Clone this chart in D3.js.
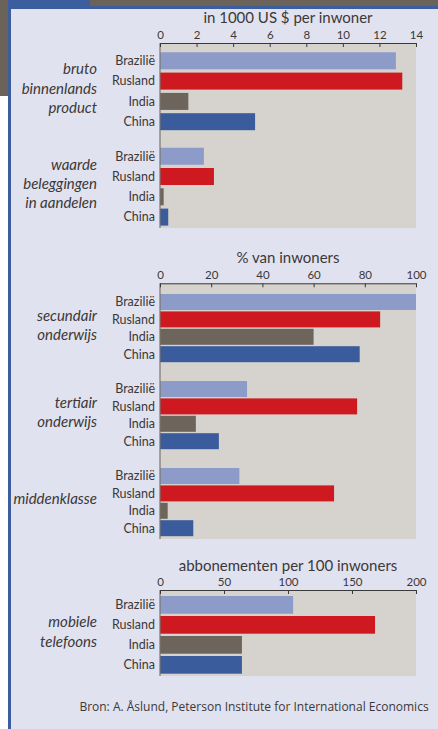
<!DOCTYPE html>
<html>
<head>
<meta charset="utf-8">
<script src="https://cdn.jsdelivr.net/npm/d3@7"></script>
<style>
  html, body { margin: 0; padding: 0; background: #fff; }
  svg { display: block; font-family: Lato, "Open Sans", sans-serif; }
</style>
</head>
<body>
<div id="chart"></div>
<script>
const width = 438,
  height = 729;

// data
const countries = ["Brazilië", "Rusland", "India", "China"];
const bbp = [12.9, 13.25, 1.55, 5.2];
const aandelen = [2.4, 2.95, 0.2, 0.45];
const secundair = [100, 86, 60, 78];
const tertiair = [34, 77, 14, 23];
const middenklasse = [31, 68, 3, 13];
const mobiel = [104, 168, 64, 64];

const ticks1 = [0, 2, 4, 6, 8, 10, 12, 14];
const ticks2 = [0, 20, 40, 60, 80, 100];
const ticks3 = [0, 50, 100, 150, 200];

const colors = ["#8c9bc7", "#cf1920", "#6d645b", "#3a5c9d"];

const panels = [
  {
    title: "in 1000 US $ per inwoner",
    ticks: ticks1,
    groups: [
      { label: ["bruto", "binnenlands", "product"], values: bbp },
      { label: ["waarde", "beleggingen", "in aandelen"], values: aandelen },
    ],
    // layout
    titleY: 18, axisY: 43, bottom: 228, first: 52.3, step: 20.3, barH: 17, groupSlots: 4.7,
  },
  {
    title: "% van inwoners",
    ticks: ticks2,
    groups: [
      { label: ["secundair", "onderwijs"], values: secundair },
      { label: ["tertiair", "onderwijs"], values: tertiair },
      { label: ["middenklasse"], values: middenklasse },
    ],
    titleY: 258, axisY: 283.3, bottom: 539, first: 294, step: 17.4, barH: 16, groupSlots: 5,
  },
  {
    title: "abbonementen per 100 inwoners",
    ticks: ticks3,
    groups: [{ label: ["mobiele", "telefoons"], values: mobiel }],
    titleY: 566, axisY: 590, bottom: 676, first: 596, step: 20, barH: 17.7, groupSlots: 5,
  },
];

const svg = d3
  .select("#chart")
  .append("svg")
  .attr("width", width)
  .attr("height", height);

// frame
svg.append("rect").attr("width", width).attr("height", height).attr("fill", "#ffffff");
svg.append("rect").attr("x", 0).attr("y", 0).attr("width", width).attr("height", 7).attr("fill", "#6b6259");
svg.append("rect").attr("x", 0).attr("y", 0).attr("width", 9).attr("height", 96).attr("fill", "#6b6259");
svg.append("rect").attr("x", 8).attr("y", 0).attr("width", 82).attr("height", 7).attr("fill", "#3d5e9e");
svg.append("rect").attr("x", 8).attr("y", 6).attr("width", width - 8).attr("height", height - 6).attr("fill", "#3d5e9e");
svg.append("rect").attr("x", 11).attr("y", 9).attr("width", width - 11).attr("height", height - 9).attr("fill", "#e1e2ef");

const textColor = "#3b3838";
const x0 = 160,
  x1 = 416;

panels.forEach((p) => {
  const x = d3
    .scaleLinear()
    .domain([p.ticks[0], p.ticks[p.ticks.length - 1]])
    .range([x0, x1]);

  // slot index -> top of bar
  const y = d3.scaleLinear().domain([0, 1]).range([p.first, p.first + p.step]);

  const g = svg.append("g");

  // plot background
  g.append("rect")
    .attr("x", x0)
    .attr("y", p.axisY)
    .attr("width", x1 - x0)
    .attr("height", p.bottom - p.axisY)
    .attr("fill", "#d6d3ce");

  // title
  g.append("text")
    .attr("x", (x0 + x1) / 2)
    .attr("y", p.titleY)
    .attr("dy", "0.35em")
    .attr("text-anchor", "middle")
    .attr("fill", textColor)
    .style("font-size", "15px")
    .text(p.title);

  const rows = [];
  p.groups.forEach((grp, gi) => {
    grp.values.forEach((v, i) => {
      rows.push({ country: countries[i], value: v, i: i, slot: gi * p.groupSlots + i });
    });
  });

  // bars
  g.selectAll("bars")
    .data(rows)
    .join("rect")
    .attr("x", x(0))
    .attr("y", (d) => y(d.slot))
    .attr("width", (d) => x(d.value) - x(0))
    .attr("height", p.barH)
    .attr("fill", (d) => colors[d.i]);

  // country labels
  g.selectAll("countryLabels")
    .data(rows)
    .join("text")
    .attr("x", x0 - 5)
    .attr("y", (d) => y(d.slot) + p.barH / 2)
    .attr("dy", "0.35em")
    .attr("text-anchor", "end")
    .attr("fill", textColor)
    .style("font-size", "12.5px")
    .text((d) => d.country);

  // group labels
  p.groups.forEach((grp, gi) => {
    const top = y(gi * p.groupSlots);
    const bot = y(gi * p.groupSlots + 3) + p.barH;
    const mid = (top + bot) / 2 - 3;
    const lh = 19.3;
    g.append("text")
      .attr("text-anchor", "end")
      .attr("fill", textColor)
      .style("font-size", "15px")
      .style("font-style", "italic")
      .selectAll("tspan")
      .data(grp.label)
      .join("tspan")
      .attr("x", 97)
      .attr("y", (d, k) => mid + (k - (grp.label.length - 1) / 2) * lh)
      .attr("dy", "0.35em")
      .text((d) => d);
  });

  // left axis line
  g.append("line")
    .attr("x1", x0)
    .attr("x2", x0)
    .attr("y1", p.axisY)
    .attr("y2", p.bottom)
    .attr("stroke", "#7a7470")
    .attr("stroke-width", 1.2);

  // top axis
  const axis = g
    .append("g")
    .attr("transform", `translate(0,${p.axisY})`)
    .call(
      d3.axisTop(x).tickValues(p.ticks).tickSizeInner(-4).tickSizeOuter(0).tickPadding(4)
    );
  axis.select(".domain").attr("stroke", "#3b3838");
  axis.selectAll(".tick line").attr("stroke", "#3b3838");
  axis
    .selectAll(".tick text")
    .attr("fill", textColor)
    .style("font-size", "11.5px")
    .style("font-family", "Lato, sans-serif");
});

// source
svg
  .append("text")
  .attr("x", 254)
  .attr("y", 707)
  .attr("dy", "0.35em")
  .attr("text-anchor", "middle")
  .attr("fill", textColor)
  .style("font-size", "12px")
  .style("font-family", "'Open Sans', sans-serif")
  .text("Bron: A. Åslund, Peterson Institute for International Economics");
</script>
</body>
</html>
